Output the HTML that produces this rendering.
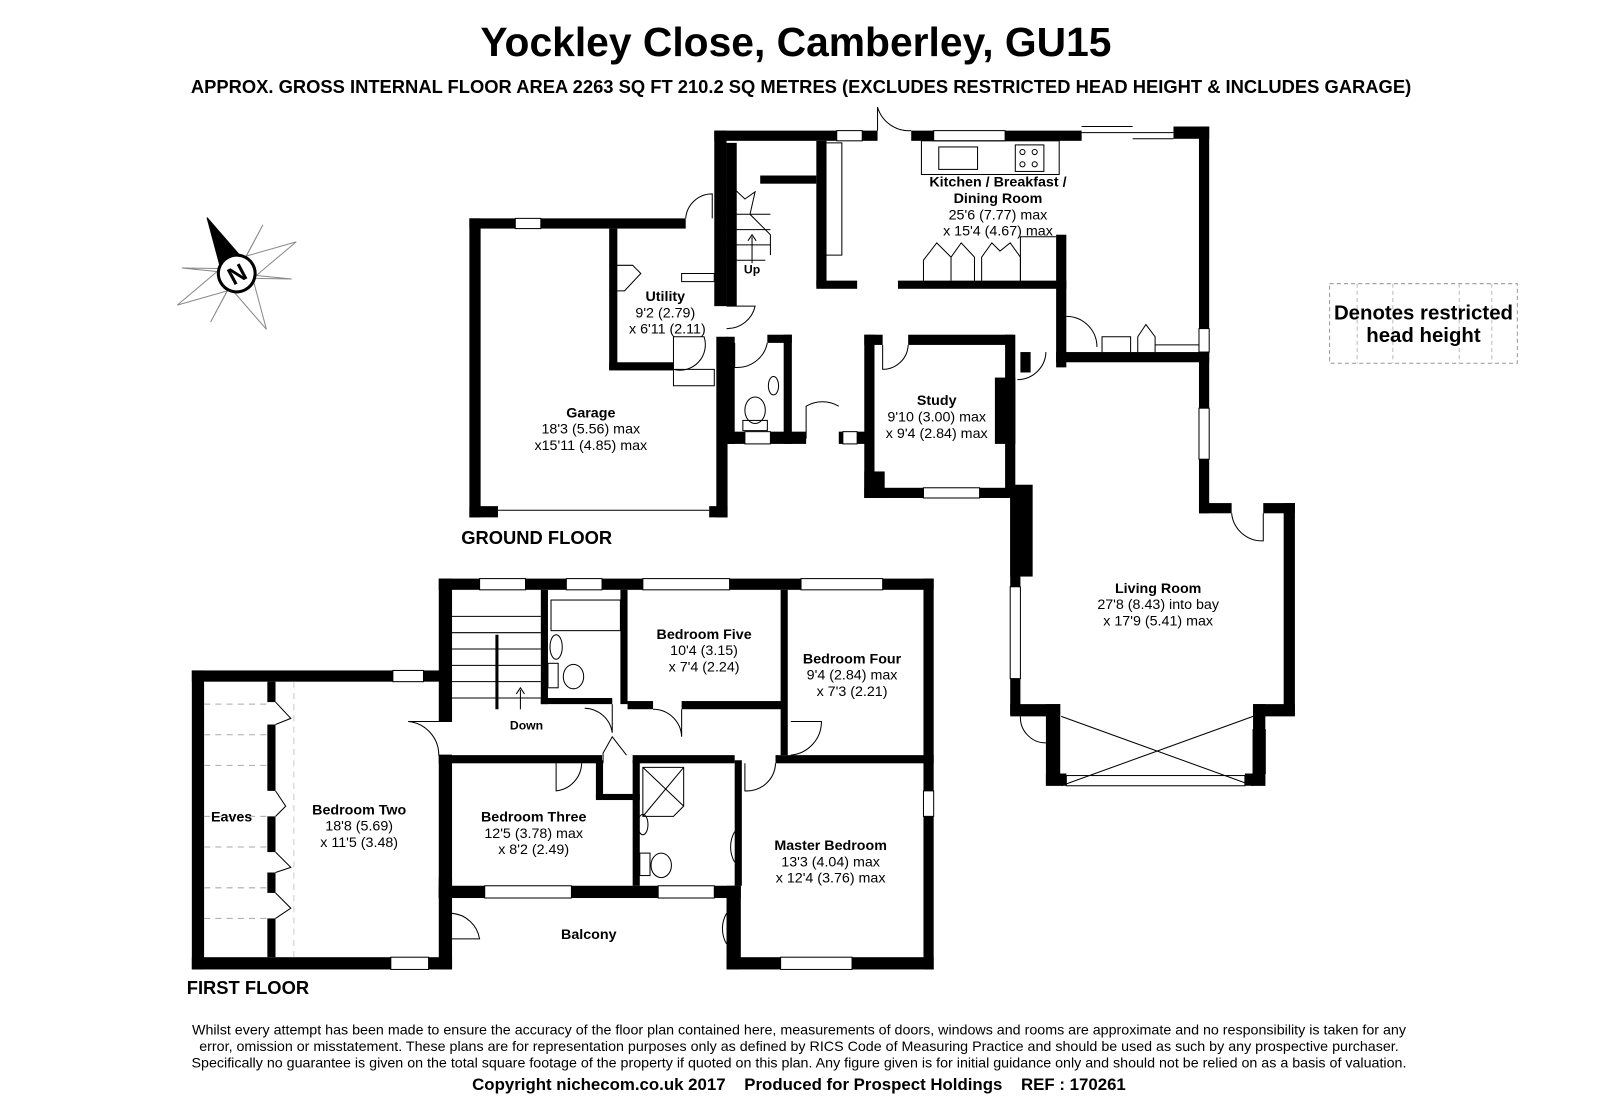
<!DOCTYPE html>
<html><head><meta charset="utf-8"><style>
html,body{margin:0;padding:0;background:#fff}
svg{display:block}
text{font-family:"Liberation Sans",Arial,sans-serif;fill:#000}
.b{font-weight:bold}
</style></head><body>
<svg width="1600" height="1097" viewBox="0 0 1568 1075" preserveAspectRatio="none" xmlns="http://www.w3.org/2000/svg">
<rect width="1568" height="1075" fill="#fff"/>
<text x="780" y="55" text-anchor="middle" class="b" font-size="40">Yockley Close, Camberley, GU15</text>
<text x="785" y="91" text-anchor="middle" class="b" font-size="18">APPROX. GROSS INTERNAL FLOOR AREA 2263 SQ FT 210.2 SQ METRES (EXCLUDES RESTRICTED HEAD HEIGHT &amp; INCLUDES GARAGE)</text>

<!-- compass -->
<g transform="translate(232,268) rotate(-28)" stroke="#888" stroke-width="1" fill="#fff">
<polygon points="0,-62 12,-10 0,0 -12,-10" fill="#000" stroke="#000"/>
<polygon points="0,62 12,10 0,0 -12,10"/>
<polygon points="-66,0 -10,-12 0,0 -10,12"/>
<polygon points="66,0 10,-12 0,0 10,12"/>
<polygon points="-45,-30 -5,-8 0,0" /><polygon points="45,30 5,8 0,0"/>
<polygon points="45,-30 8,-5 0,0"/><polygon points="-45,30 -8,5 0,0"/>
<circle r="18" fill="#fff" stroke="#000" stroke-width="3"/>
<text x="0" y="9" text-anchor="middle" class="b" font-size="24" stroke="none">N</text>
</g>

<!-- restricted head height legend -->
<rect x="1303" y="278" width="184" height="78" fill="none" stroke="#999" stroke-dasharray="4,3"/>
<line x1="1330" y1="278" x2="1330" y2="356" stroke="#bbb" stroke-dasharray="4,3"/>
<line x1="1365" y1="278" x2="1365" y2="356" stroke="#bbb" stroke-dasharray="4,3"/>
<line x1="1430" y1="278" x2="1430" y2="356" stroke="#bbb" stroke-dasharray="4,3"/>
<line x1="1462" y1="278" x2="1462" y2="356" stroke="#bbb" stroke-dasharray="4,3"/>
<text x="1395" y="313" text-anchor="middle" class="b" font-size="20">Denotes restricted</text>
<text x="1395" y="335" text-anchor="middle" class="b" font-size="20">head height</text>

<g fill="#000">
<!-- GROUND FLOOR -->
<rect x="460" y="214" width="11" height="293"/>
<rect x="460" y="214" width="45" height="10"/><rect x="530" y="214" width="142" height="10"/>
<rect x="597" y="224" width="8" height="138"/><rect x="597" y="355" width="63" height="8"/>
<rect x="460" y="496" width="28" height="11"/><rect x="695" y="496" width="18" height="11"/>
<rect x="702" y="330" width="11" height="177"/>
<rect x="700" y="128" width="12" height="172"/>
<rect x="700" y="128" width="120" height="10"/><rect x="845" y="128" width="15" height="10"/>
<rect x="893" y="128" width="22" height="10"/><rect x="985" y="128" width="75" height="10"/>
<rect x="1150" y="124" width="35" height="12"/>
<rect x="1175" y="124" width="10" height="198"/><rect x="1175" y="345" width="10" height="55"/>
<rect x="1175" y="450" width="10" height="53"/>
<rect x="1175" y="493" width="32" height="10"/><rect x="1238" y="493" width="31" height="10"/>
<rect x="1258" y="493" width="11" height="207"/>
<rect x="1228" y="690" width="41" height="12"/><rect x="1228" y="690" width="12" height="80"/>
<rect x="1220" y="758" width="20" height="12"/><rect x="1025" y="758" width="20" height="12"/>
<rect x="1025" y="690" width="14" height="80"/><rect x="990" y="690" width="49" height="12"/>
<rect x="990" y="665" width="10" height="35"/><rect x="990" y="480" width="10" height="95"/>
<rect x="990" y="475" width="22" height="90"/>
<rect x="800" y="138" width="10" height="142"/><rect x="712" y="140" width="10" height="160"/>
<rect x="745" y="172" width="55" height="8"/>
<rect x="800" y="275" width="40" height="8"/><rect x="880" y="275" width="165" height="8"/>
<rect x="1035" y="230" width="10" height="130"/><rect x="1035" y="345" width="150" height="10"/>
<rect x="1000" y="345" width="10" height="20"/>
<rect x="847" y="328" width="18" height="10"/><rect x="890" y="328" width="103" height="10"/>
<rect x="847" y="328" width="10" height="160"/><rect x="847" y="462" width="20" height="26"/>
<rect x="847" y="478" width="58" height="10"/><rect x="960" y="478" width="40" height="10"/>
<rect x="985" y="328" width="10" height="160"/><rect x="975" y="370" width="20" height="65"/>
<rect x="712" y="330" width="8" height="105"/><rect x="712" y="423" width="18" height="12"/>
<rect x="755" y="423" width="35" height="12"/><rect x="768" y="328" width="8" height="107"/>
<rect x="752" y="328" width="24" height="8"/>
<rect x="822" y="423" width="4" height="12"/><rect x="840" y="423" width="10" height="12"/>

<!-- FIRST FLOOR -->
<rect x="188" y="657" width="12" height="293"/>
<rect x="188" y="657" width="197" height="11"/><rect x="415" y="657" width="25" height="11"/>
<rect x="188" y="938" width="195" height="12"/><rect x="420" y="938" width="23" height="12"/>
<rect x="430" y="567" width="13" height="140"/><rect x="430" y="740" width="13" height="140"/>
<rect x="430" y="860" width="13" height="90"/>
<rect x="430" y="567" width="40" height="11"/><rect x="515" y="567" width="40" height="11"/>
<rect x="590" y="567" width="40" height="11"/><rect x="715" y="567" width="70" height="11"/>
<rect x="865" y="567" width="50" height="11"/>
<rect x="905" y="567" width="10" height="208"/><rect x="905" y="800" width="10" height="150"/>
<rect x="712" y="938" width="53" height="12"/><rect x="835" y="938" width="80" height="12"/>
<rect x="712" y="868" width="14" height="82"/>
<rect x="430" y="868" width="45" height="12"/><rect x="560" y="868" width="85" height="12"/>
<rect x="700" y="868" width="26" height="12"/>
<rect x="262" y="668" width="8" height="20"/><rect x="262" y="710" width="8" height="65"/>
<rect x="262" y="800" width="8" height="35"/><rect x="262" y="855" width="8" height="20"/>
<rect x="262" y="900" width="8" height="38"/>
<rect x="530" y="578" width="7" height="112"/><rect x="608" y="578" width="7" height="112"/>
<rect x="530" y="684" width="70" height="6"/>
<rect x="615" y="687" width="25" height="8"/><rect x="668" y="687" width="102" height="8"/>
<rect x="765" y="578" width="7" height="162"/>
<rect x="430" y="740" width="160" height="8"/><rect x="620" y="740" width="100" height="8"/>
<rect x="760" y="740" width="155" height="8"/>
<rect x="584" y="745" width="7" height="38"/><rect x="584" y="778" width="43" height="6"/>
<rect x="620" y="745" width="7" height="123"/><rect x="720" y="745" width="7" height="123"/>
</g>

<!-- windows (thin lines) -->
<g stroke="#000" stroke-width="1" fill="none">
<rect x="505" y="214" width="25" height="10"/><rect x="820" y="128" width="25" height="10"/>
<rect x="915" y="128" width="70" height="10"/>
<path d="M1060 124H1110M1060 130H1150M1110 136H1150"/>
<rect x="1175" y="322" width="10" height="23"/><rect x="1175" y="400" width="10" height="50"/>
<rect x="990" y="575" width="10" height="90"/><rect x="1045" y="760" width="175" height="10"/>
<rect x="1228" y="715" width="12" height="43"/>
<path d="M1040 702L1228 770M1040 770L1228 702"/>
<rect x="905" y="478" width="55" height="10"/>
<rect x="730" y="423" width="25" height="12"/><rect x="826" y="423" width="14" height="12"/>
<path d="M488 500H695"/>
<rect x="385" y="657" width="30" height="11"/><rect x="383" y="938" width="37" height="12"/>
<rect x="470" y="567" width="45" height="11"/><rect x="555" y="567" width="35" height="11"/>
<rect x="630" y="567" width="85" height="11"/><rect x="785" y="567" width="80" height="11"/>
<rect x="905" y="775" width="10" height="25"/><rect x="765" y="938" width="70" height="12"/>
<rect x="475" y="868" width="85" height="12"/><rect x="645" y="868" width="55" height="12"/>
<!-- doors arcs -->
<path d="M860 128V105A32 32 0 0 0 893 128"/>
<path d="M672 214A26 26 0 0 1 698 190V214"/>
<path d="M712 300H740A28 28 0 0 1 712 322"/>
<path d="M660 330V362A25 25 0 0 0 690 330Z"/>
<path d="M720 336V360A30 30 0 0 0 752 336"/>
<path d="M790 430V398A32 32 0 0 1 822 398"/>
<path d="M865 338V362A25 25 0 0 0 890 338"/>
<path d="M1045 310A30 30 0 0 1 1075 340"/>
<path d="M997 372A28 28 0 0 0 1025 345"/>
<path d="M1207 503A30 30 0 0 0 1238 530V503"/>
<path d="M1000 702A25 25 0 0 0 1025 728"/>
<path d="M597 260H620L628 268L612 285H597"/>
<path d="M660 362H700V378H660Z"/>
<path d="M668 268H700V276H668Z"/>
<path d="M810 140H825V250H810"/>
<!-- kitchen units -->
<rect x="903" y="138" width="135" height="33"/>
<rect x="920" y="144" width="38" height="22"/><rect x="995" y="142" width="28" height="26"/>
<circle cx="1002" cy="149" r="2.5"/><circle cx="1014" cy="149" r="2.5"/>
<circle cx="1002" cy="161" r="2.5"/><circle cx="1014" cy="161" r="2.5"/>
<path d="M905 275V255L918 238L932 252V275M932 275V252L942 238L955 252V275M962 275V252L972 238L980 246L990 238L1000 252V275"/>
<path d="M1000 275V232H1035"/>
<path d="M1080 345V330H1108V345M1115 345V330L1123 318L1132 330V345M1132 345V338H1175"/>
<!-- stairs GF -->
<path d="M712 178L730 195L740 188L735 210L755 230V250M712 210H755M712 225H755M712 240H755M712 255H750M737 258V232M733 236L737 230L741 236"/>
<!-- WC -->
<ellipse cx="740" cy="402" rx="10" ry="13"/><rect x="728" y="412" width="24" height="10"/>
<ellipse cx="758" cy="378" rx="5" ry="9"/>
<!-- FF stairs -->
<path d="M443 604H530M443 620H530M443 636H530M443 652H530M443 668H530M443 684H530M510 695V676M506 680L510 674L514 680"/>
<path d="M487 622V695" stroke-width="3"/>
<!-- bath -->
<rect x="540" y="588" width="68" height="30"/><ellipse cx="545" cy="634" rx="6" ry="12"/>
<ellipse cx="562" cy="663" rx="10" ry="12"/><rect x="537" y="650" width="10" height="24"/>
<!-- ensuite -->
<path d="M630 752H670V790L660 800H630Z M630 752L670 790M670 752L630 800"/>
<ellipse cx="630" cy="808" rx="5" ry="10"/><ellipse cx="648" cy="848" rx="10" ry="12"/><rect x="627" y="836" width="10" height="22"/>
<!-- FF doors -->
<path d="M443 707H400A33 33 0 0 1 430 740H443"/>
<path d="M775 707H805A33 33 0 0 1 775 740"/>
<path d="M573 694A28 28 0 0 1 600 718V690"/>
<path d="M640 695A28 28 0 0 1 668 722V695"/>
<path d="M545 748V775A28 28 0 0 0 570 748"/>
<path d="M730 748V775A28 28 0 0 0 760 748"/>
<path d="M591 748V738L600 722L614 740"/>
<path d="M720 815A30 30 0 0 0 720 845"/>
<path d="M443 895A30 30 0 0 1 470 920H443"/>
<path d="M712 895A30 30 0 0 0 712 925"/>
<path d="M270 688L285 704L270 710M270 775L280 790L270 800M270 835L285 850L270 855M270 875L285 890L270 900"/>
<path d="M200 690H262M200 720H262M200 750H262M200 800H262M200 830H262M200 870H262M200 900H262" stroke="#aaa" stroke-dasharray="6,5"/>
<path d="M288 668V938" stroke="#ccc" stroke-dasharray="6,5"/>
</g>

<!-- labels -->
<g font-size="14" text-anchor="middle">
<text x="978" y="183" class="b">Kitchen / Breakfast /</text>
<text x="978" y="199" class="b">Dining Room</text>
<text x="978" y="215">25'6 (7.77) max</text>
<text x="978" y="231">x 15'4 (4.67) max</text>
<text x="737" y="268" class="b" font-size="12">Up</text>
<text x="652" y="295" class="b">Utility</text>
<text x="652" y="311">9'2 (2.79)</text>
<text x="654" y="327">x 6'11 (2.11)</text>
<text x="579" y="409" class="b">Garage</text>
<text x="579" y="425">18'3 (5.56) max</text>
<text x="579" y="441">x15'11 (4.85) max</text>
<text x="918" y="397" class="b">Study</text>
<text x="918" y="413">9'10 (3.00) max</text>
<text x="918" y="429">x 9'4 (2.84) max</text>
<text x="1135" y="581" class="b">Living Room</text>
<text x="1135" y="597">27'8 (8.43) into bay</text>
<text x="1135" y="613">x 17'9 (5.41) max</text>
<text x="690" y="626" class="b">Bedroom Five</text>
<text x="690" y="642">10'4 (3.15)</text>
<text x="690" y="658">x 7'4 (2.24)</text>
<text x="835" y="650" class="b">Bedroom Four</text>
<text x="835" y="666">9'4 (2.84) max</text>
<text x="835" y="682">x 7'3 (2.21)</text>
<text x="516" y="715" class="b" font-size="12">Down</text>
<text x="352" y="798" class="b">Bedroom Two</text>
<text x="352" y="814">18'8 (5.69)</text>
<text x="352" y="830">x 11'5 (3.48)</text>
<text x="227" y="805" class="b">Eaves</text>
<text x="523" y="805" class="b">Bedroom Three</text>
<text x="523" y="821">12'5 (3.78) max</text>
<text x="523" y="837">x 8'2 (2.49)</text>
<text x="814" y="833" class="b">Master Bedroom</text>
<text x="814" y="849">13'3 (4.04) max</text>
<text x="814" y="865">x 12'4 (3.76) max</text>
<text x="577" y="920" class="b">Balcony</text>
</g>
<text x="452" y="533" class="b" font-size="18">GROUND FLOOR</text>
<text x="183" y="974" class="b" font-size="18">FIRST FLOOR</text>

<g font-size="14" text-anchor="middle">
<text x="783" y="1014">Whilst every attempt has been made to ensure the accuracy of the floor plan contained here, measurements of doors, windows and rooms are approximate and no responsibility is taken for any</text>
<text x="783" y="1030">error, omission or misstatement. These plans are for representation purposes only as defined by RICS Code of Measuring Practice and should be used as such by any prospective purchaser.</text>
<text x="783" y="1046">Specifically no guarantee is given on the total square footage of the property if quoted on this plan. Any figure given is for initial guidance only and should not be relied on as a basis of valuation.</text>
</g>
<text x="783" y="1068" text-anchor="middle" class="b" font-size="16.5" xml:space="preserve">Copyright nichecom.co.uk 2017    Produced for Prospect Holdings    REF : 170261</text>
</svg>
</body></html>
